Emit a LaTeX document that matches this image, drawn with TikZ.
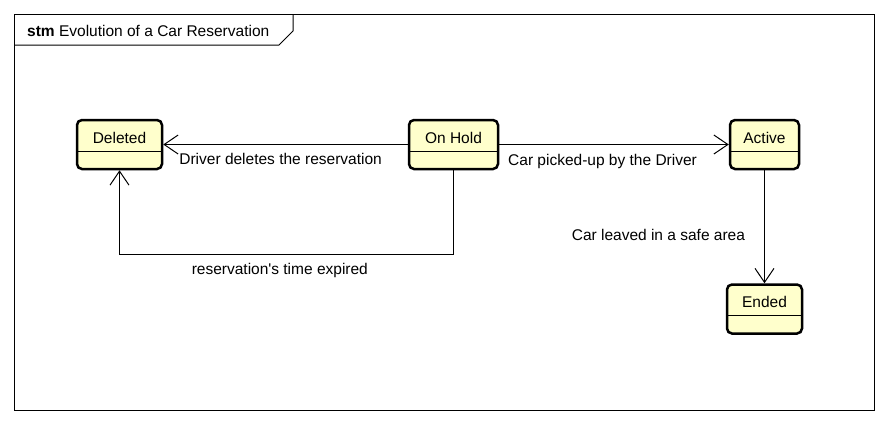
\documentclass[tikz,border=0pt]{standalone}
\usepackage{fontspec}
\setmainfont{Liberation Sans}
\usetikzlibrary{arrows.meta,positioning}
\definecolor{statefill}{RGB}{255,255,204}

\begin{document}
\begin{tikzpicture}[x=1pt, y=-1pt, font=\fontsize{15.5}{18}\selectfont]
    \tikzset{
        st/.style       =   { rectangle
                            , rounded corners=5pt
                            , draw=black
                            , line width=2.5pt
                            , fill=statefill
                            , inner xsep=0pt
                            , inner ysep=0pt
                            , text height=23pt
                            , text depth=26pt
                            , path picture={\draw[line width=1pt]
                                ([yshift=-31pt]path picture bounding box.north west) --
                                ([yshift=-31pt]path picture bounding box.north east);}
        }
        , arrow/.style  =   { line width=1pt
                            , -{Straight Barb[length=14pt, width=19pt]}
        }
        , lbl/.style    =   { inner sep=0pt }
    }
    \useasboundingbox (0,0) rectangle (888,424);

    % frame and its tab
    \draw[line width=1pt] (14,14) rectangle (874,410);
    \draw[line width=1pt] (14,45) -- (279,45) -- (293,31) -- (293,14);
    \node(0)[anchor=west, inner sep=0pt] at (27,31) {\textbf{stm} Evolution of a Car Reservation};

    % states
    \node(1)[st, minimum width=85pt] at (119.5,144.5) {Deleted};
    \node(2)[st, minimum width=89pt] at (453.5,144.5) {On Hold};
    \node(3)[st, minimum width=69pt] at (764.5,144.5) {Active};
    \node(4)[st, minimum width=75pt, below=113pt of 3] {Ended};

    % transitions
    \draw[arrow] (2) -- node[lbl, below=8pt, pos=0.52]{Driver deletes the reservation} (1);
    \draw[arrow] (2) -- node[lbl, below=9pt, pos=0.45]{Car picked-up by the Driver} (3);
    \draw[arrow] (2.south) -- ++(0,84) -| node[lbl, below=9pt, pos=0.26]{reservation\textquotesingle s time expired} (1.south);
    \draw[arrow] (3) -- node[lbl, left=19pt, pos=0.575]{Car leaved in a safe area} (4);
\end{tikzpicture}
\end{document}
